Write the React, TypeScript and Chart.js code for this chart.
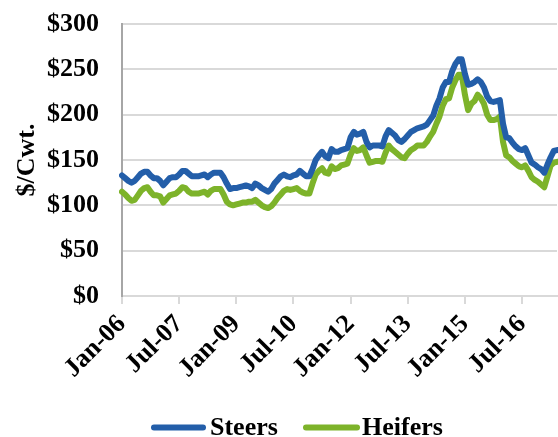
import React, { useEffect, useRef } from "react";
import { Chart, registerables } from "chart.js";

Chart.register(...registerables);

const monthNames = ["Jan", "Feb", "Mar", "Apr", "May", "Jun", "Jul", "Aug", "Sep", "Oct", "Nov", "Dec"];
const startYear = 2006;
const monthCount = 138; // Jan-06 .. Jun-17

const categories: string[] = [];
for (let i = 0; i < monthCount; i++) {
  const y = startYear + Math.floor(i / 12);
  categories.push(`${monthNames[i % 12]}-${String(y % 100).padStart(2, "0")}`);
}

const tickEvery = 18;

const steers = [
  133, 130, 127, 125, 127, 131, 135, 137, 137, 133, 130, 130,
  127, 122, 126, 130, 131, 131, 134, 138, 138, 135, 132, 132,
  132, 133, 134, 131, 134, 136, 136, 136, 131, 124, 118, 119,
  119, 120, 121, 122, 121, 119, 124, 122, 119, 117, 115, 118,
  124, 128, 132, 134, 132, 131, 133, 134, 138, 135, 132, 132,
  140, 150, 155, 159, 154, 152, 162, 159, 159, 161, 162, 163,
  175, 181, 178, 179, 181, 170, 164, 166, 166, 166, 165, 176,
  183, 180, 177, 172, 170, 173, 177, 181, 183, 185, 186, 187,
  189, 194, 199, 210, 218, 230, 236, 236, 248, 256, 261, 261,
  245, 233, 234, 236, 239, 236, 230, 220, 215, 214, 215, 216,
  190, 175, 174, 169, 165, 162, 161, 163, 155, 147, 145, 142,
  140, 136, 145, 153, 160, 161,
];

const heifers = [
  115, 112, 108, 105, 106, 111, 116, 119, 120, 115, 111, 111,
  110, 103, 107, 111, 112, 113, 116, 120, 119, 115, 113, 113,
  113, 114, 115, 112, 116, 118, 118, 118, 112, 104, 101, 100,
  101, 102, 103, 103, 104, 104, 106, 103, 100, 98, 97, 99,
  103, 108, 112, 116, 118, 117, 118, 119, 116, 114, 113, 113,
  124, 134, 138, 141, 136, 135, 143, 140, 141, 144, 145, 146,
  156, 163, 160, 161, 164, 155, 147, 148, 149, 149, 148, 158,
  166, 162, 159, 156, 153, 152, 157, 161, 163, 166, 166, 166,
  170, 176, 181, 190, 198, 210, 217, 218, 230, 238, 244, 244,
  222, 205, 212, 215, 222, 218, 212, 200, 194, 194, 195, 198,
  170, 155, 153, 149, 146, 143, 142, 144, 138, 131, 128, 126,
  123, 120, 132, 144, 147, 148,
];

const yTicks = [0, 50, 100, 150, 200, 250, 300];

const BLUE = "#235EA9";
const GREEN = "#7DB32A";
const FONT = "'Liberation Serif', 'Times New Roman', serif";

// legend drawn under the chart: line sample start x, text start x
const legendLayout = [
  { lineX: 154, lineW: 49, textX: 210 },
  { lineX: 306, lineW: 51, textX: 362 },
];
const legendLineY = 427.5;
const legendTextBaseline = 435;

const bottomLegend = {
  id: "bottomLegend",
  afterDraw(chart: any) {
    const ctx = chart.ctx;
    ctx.save();
    chart.data.datasets.forEach((ds: any, i: number) => {
      const pos = legendLayout[i];
      if (!pos) return;
      ctx.strokeStyle = ds.borderColor;
      ctx.lineWidth = 6;
      ctx.lineCap = "round";
      ctx.beginPath();
      ctx.moveTo(pos.lineX, legendLineY);
      ctx.lineTo(pos.lineX + pos.lineW, legendLineY);
      ctx.stroke();
      ctx.fillStyle = "#000";
      ctx.font = `bold 26px ${FONT}`;
      ctx.textBaseline = "alphabetic";
      ctx.textAlign = "left";
      ctx.fillText(ds.label, pos.textX, legendTextBaseline);
    });
    ctx.restore();
  },
};

export default function App() {
  const ref = useRef<HTMLCanvasElement | null>(null);

  useEffect(() => {
    if (!ref.current) return;
    const chart = new Chart(ref.current, {
      type: "line",
      data: {
        labels: categories,
        datasets: [
          {
            label: "Steers",
            data: steers,
            borderColor: BLUE,
            backgroundColor: BLUE,
            borderWidth: 6,
            pointRadius: 0,
            tension: 0,
            borderJoinStyle: "round",
            borderCapStyle: "round",
          },
          {
            label: "Heifers",
            data: heifers,
            borderColor: GREEN,
            backgroundColor: GREEN,
            borderWidth: 6,
            pointRadius: 0,
            tension: 0,
            borderJoinStyle: "round",
            borderCapStyle: "round",
          },
        ],
      },
      plugins: [bottomLegend],
      options: {
        animation: false,
        responsive: false,
        maintainAspectRatio: false,
        layout: { padding: { top: 24, right: 1, left: 0, bottom: 48 } },
        plugins: {
          tooltip: { enabled: false },
          legend: { display: false },
        },
        scales: {
          x: {
            type: "category",
            offset: false,
            afterFit: (axis: any) => {
              axis.height = 93;
              axis.paddingTop = 0;
              axis.paddingBottom = 0;
              axis.paddingLeft = 0;
              axis.paddingRight = 0;
            },
            grid: {
              display: true,
              drawOnChartArea: false,
              drawTicks: true,
              tickLength: 8,
              color: "#d9d9d9",
              lineWidth: 2,
            },
            border: { display: true, color: "#d9d9d9", width: 2 },
            ticks: {
              autoSkip: false,
              minRotation: 45,
              maxRotation: 45,
              padding: 5,
              color: "#000",
              font: { family: FONT, size: 26, weight: "bold" },
              callback: function (_v: any, index: number) {
                return index % tickEvery === 0 ? categories[index] : null;
              },
            },
          },
          y: {
            min: yTicks[0],
            max: yTicks[yTicks.length - 1],
            afterFit: (axis: any) => {
              axis.width = 122;
              axis.paddingTop = 0;
              axis.paddingBottom = 0;
            },
            afterBuildTicks: (axis: any) => {
              axis.ticks = yTicks.map((v) => ({ value: v }));
            },
            grid: {
              color: "#d9d9d9",
              lineWidth: 2,
              drawTicks: false,
            },
            border: { display: true, color: "#a6a6a6", width: 2 },
            ticks: {
              padding: 23,
              color: "#000",
              font: { family: FONT, size: 26, weight: "bold" },
              callback: (v: any) => "$" + v,
            },
            title: {
              display: true,
              text: "$/Cwt.",
              color: "#000",
              padding: { top: 12, bottom: 0 },
              font: { family: FONT, size: 26, weight: "bold" },
            },
          },
        },
      },
    });
    return () => chart.destroy();
  }, []);

  return (
    <div style={{ position: "fixed", left: 0, top: 0, width: 558, height: 437, background: "#fff" }}>
      <canvas ref={ref} width={558} height={437} style={{ width: 558, height: 437, display: "block" }} />
    </div>
  );
}
